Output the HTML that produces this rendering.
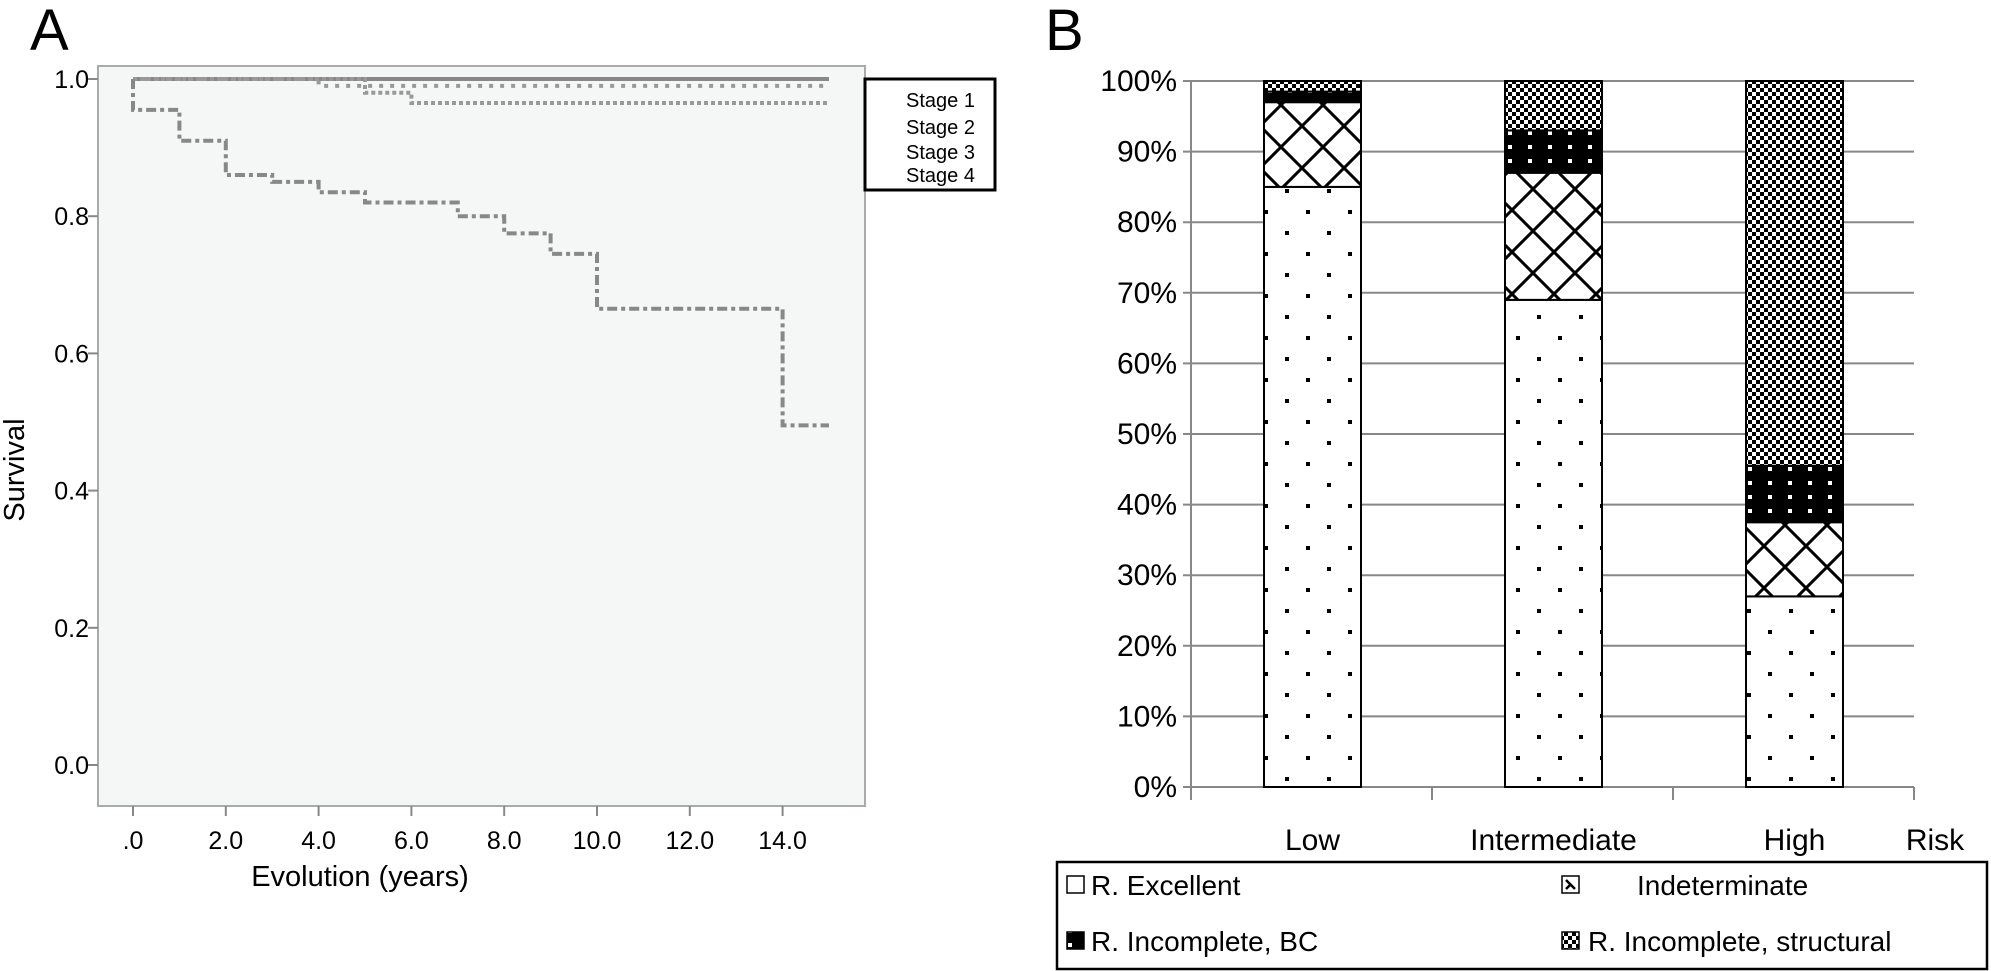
<!DOCTYPE html>
<html><head><meta charset="utf-8">
<style>
html,body{margin:0;padding:0;background:#fff;}
svg{display:block;font-family:"Liberation Sans",Arial,sans-serif;}
</style></head>
<body>
<svg id="root" width="1991" height="971" viewBox="0 0 1991 971" xmlns="http://www.w3.org/2000/svg">
<defs>
  <pattern id="pDots" width="42" height="42" patternUnits="userSpaceOnUse" x="1264" y="0">
    <rect width="42" height="42" fill="#fff"/>
    <rect x="0" y="0" width="4" height="4" fill="#000"/>
    <rect x="21" y="21" width="4" height="4" fill="#000"/>
  </pattern>
  <pattern id="pLattice" width="42" height="42" patternUnits="userSpaceOnUse">
    <rect width="42" height="42" fill="#fff"/>
    <path d="M0,42 L42,0 M0,0 L42,42" stroke="#000" stroke-width="3"/>
  </pattern>
  <pattern id="pBC" width="20" height="14" patternUnits="userSpaceOnUse">
    <rect width="20" height="14" fill="#000"/>
    <rect x="8" y="5" width="4" height="4" fill="#fff"/>
  </pattern>
  <pattern id="pChk" width="8" height="8" patternUnits="userSpaceOnUse">
    <rect width="8" height="8" fill="#fff"/>
    <rect x="0" y="0" width="4" height="4" fill="#000"/>
    <rect x="4" y="4" width="4" height="4" fill="#000"/>
  </pattern>
</defs>

<!-- Panel A -->
<text x="30" y="50" font-size="58">A</text>
<rect x="98" y="66" width="767" height="740" fill="#f5f7f6" stroke="#aaa" stroke-width="2"/>
<g id="aAxes"></g>
<g id="aCurves"></g>
<text x="360" y="886" font-size="29" text-anchor="middle">Evolution (years)</text>
<text transform="translate(24,470) rotate(-90)" font-size="29" text-anchor="middle">Survival</text>
<g>
  <rect x="865" y="79" width="130" height="111" fill="#fff" stroke="#000" stroke-width="3"/>
  <text x="906" y="107" font-size="20">Stage 1</text>
  <text x="906" y="134" font-size="20">Stage 2</text>
  <text x="906" y="159" font-size="20">Stage 3</text>
  <text x="906" y="182" font-size="20">Stage 4</text>
</g>

<!-- Panel B -->
<text x="1045" y="50" font-size="58">B</text>
<g id="bChart"></g>
<g>
  <rect x="1057" y="862" width="930" height="107" fill="#fff" stroke="#000" stroke-width="2.5"/>
  <rect x="1067" y="876" width="17" height="17" fill="#fff" stroke="#000" stroke-width="1.5"/>
  <text x="1091" y="895" font-size="28">R. Excellent</text>
  <rect x="1562" y="876" width="17" height="17" fill="#fff" stroke="#000" stroke-width="1.5"/>
  <path d="M1566,880 L1575,889 M1566,889 L1570,885" stroke="#000" stroke-width="2.5"/>
  <text x="1637" y="895" font-size="28">Indeterminate</text>
  <rect x="1067" y="932" width="17" height="17" fill="url(#pBC)" stroke="#000" stroke-width="1.5"/>
  <text x="1091" y="951" font-size="28">R. Incomplete, BC</text>
  <rect x="1562" y="932" width="17" height="17" fill="url(#pChk)" stroke="#000" stroke-width="1.5"/>
  <text x="1588" y="951" font-size="28">R. Incomplete, structural</text>
</g>
</svg>
<script>
// ---- Panel A data ----
const aYTicks = [1.0, 0.8, 0.6, 0.4, 0.2, 0.0];
const aYTickLabels = ["1.0", "0.8", "0.6", "0.4", "0.2", "0.0"];
const aXTicks = [0, 2, 4, 6, 8, 10, 12, 14];
const aXTickLabels = [".0", "2.0", "4.0", "6.0", "8.0", "10.0", "12.0", "14.0"];
const stage1Times = [0, 15];
const stage1Surv = [1.0, 1.0];
const stage2Times = [0, 4, 15];
const stage2Surv = [1.0, 0.99, 0.99];
const stage3Times = [0, 5, 6, 15];
const stage3Surv = [1.0, 0.98, 0.965, 0.965];
const stage4Times = [0, 0, 1, 2, 3, 4, 5, 7, 8, 9, 10, 14, 15];
const stage4Surv = [1.0, 0.955, 0.91, 0.86, 0.85, 0.835, 0.82, 0.80, 0.775, 0.745, 0.665, 0.495, 0.495];

// ---- Panel B data ----
const bCategories = ["Low", "Intermediate", "High"];
const excellent = [85, 69, 27];
const indeterminate = [12, 18, 10.5];
const incompleteBC = [1.5, 6, 8];
const incompleteStructural = [1.5, 7, 54.5];
const bYTicks = [0, 10, 20, 30, 40, 50, 60, 70, 80, 90, 100];

const NS = "http://www.w3.org/2000/svg";
function mk(tag, attrs, parent) {
  const e = document.createElementNS(NS, tag);
  for (const k in attrs) e.setAttribute(k, attrs[k]);
  parent.appendChild(e);
  return e;
}
// Panel A axes
const ax = t => 133 + t * 46.4;
const ay = v => 79 + (1 - v) * 686;
const aAxes = document.getElementById('aAxes');
aYTicks.forEach((v, i) => {
  const t = mk('line', {x1: 88, x2: 98, y1: ay(v), y2: ay(v), stroke: '#888', 'stroke-width': 2}, aAxes);
  
  
  const l = mk('text', {x: 89, y: ay(v) + 9, 'font-size': 25, 'text-anchor': 'end'}, aAxes);
  l.textContent = aYTickLabels[i];
  
  
});
aXTicks.forEach((t, i) => {
  const tk = mk('line', {x1: ax(t), x2: ax(t), y1: 806, y2: 816, stroke: '#888', 'stroke-width': 2}, aAxes);
  
  
  const l = mk('text', {x: ax(t), y: 849, 'font-size': 25, 'text-anchor': 'middle'}, aAxes);
  l.textContent = aXTickLabels[i];
  
  
});
function stepPath(times, surv) {
  let d = 'M' + ax(times[0]) + ',' + ay(surv[0]);
  for (let i = 1; i < times.length; i++) {
    d += ' L' + ax(times[i]) + ',' + ay(surv[i - 1]) + ' L' + ax(times[i]) + ',' + ay(surv[i]);
  }
  return d;
}
const aCurves = document.getElementById('aCurves');
const c1 = mk('path', {d: stepPath(stage1Times, stage1Surv), fill: 'none', stroke: '#888', 'stroke-width': 4}, aCurves);


const c2 = mk('path', {d: stepPath(stage2Times, stage2Surv), fill: 'none', stroke: '#999', 'stroke-width': 4, 'stroke-dasharray': '4 7'}, aCurves);


const c3 = mk('path', {d: stepPath(stage3Times, stage3Surv), fill: 'none', stroke: '#999', 'stroke-width': 4, 'stroke-dasharray': '4 3'}, aCurves);


const c4 = mk('path', {d: stepPath(stage4Times, stage4Surv), fill: 'none', stroke: '#888', 'stroke-width': 4, 'stroke-dasharray': '10 4 4 4'}, aCurves);



// Panel B
const bx0 = 1191, bx1 = 1914, bTop = 81, bBot = 787;
const by = p => bBot - p / 100 * (bBot - bTop);
const catW = (bx1 - bx0) / 3;
const barW = 97;
const bChart = document.getElementById('bChart');
bYTicks.forEach(p => {
  const g = mk('line', {x1: bx0 - 8, x2: bx1, y1: by(p), y2: by(p), stroke: '#888', 'stroke-width': 2}, bChart);
  
  
  const l = mk('text', {x: 1177, y: by(p) + 10, 'font-size': 30, 'text-anchor': 'end'}, bChart);
  l.textContent = p + '%';
  
  
});
const ya = mk('line', {x1: bx0, x2: bx0, y1: bTop, y2: bBot + 13, stroke: '#888', 'stroke-width': 2}, bChart);


for (let i = 1; i <= 3; i++) {
  const t = mk('line', {x1: bx0 + i * catW, x2: bx0 + i * catW, y1: bBot, y2: bBot + 13, stroke: '#888', 'stroke-width': 2}, bChart);
  
  
}
const series = [
  {vals: excellent, fill: 'url(#pDots)', name: 'excellent'},
  {vals: indeterminate, fill: 'url(#pLattice)', name: 'indeterminate'},
  {vals: incompleteBC, fill: 'url(#pBC)', name: 'incomplete-bc'},
  {vals: incompleteStructural, fill: 'url(#pChk)', name: 'incomplete-structural'}
];
bCategories.forEach((c, i) => {
  const cx = bx0 + (i + 0.5) * catW + 1;
  let cum = 0;
  series.forEach(s => {
    const v = s.vals[i];
    const r = mk('rect', {x: cx - barW / 2, y: by(cum + v), width: barW, height: by(cum) - by(cum + v), fill: s.fill, stroke: '#000', 'stroke-width': 2}, bChart);
    
    
    cum += v;
  });
  const l = mk('text', {x: cx, y: 850, 'font-size': 30, 'text-anchor': 'middle'}, bChart);
  l.textContent = c;
  
  
});
const risk = mk('text', {x: 1935, y: 850, 'font-size': 30, 'text-anchor': 'middle'}, bChart);
risk.textContent = 'Risk';


</script>
</body></html>
